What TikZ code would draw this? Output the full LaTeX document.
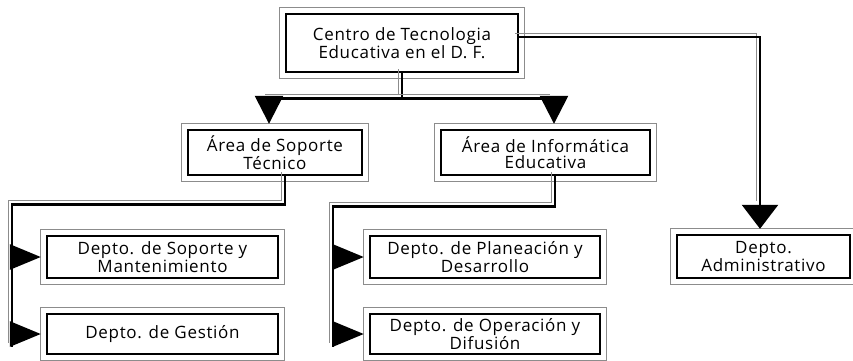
\documentclass[tikz,border=0pt]{standalone}
\usepackage{fontspec}
\setmainfont{Open Sans}[LetterSpace=4]
\usetikzlibrary{calc,arrows.meta}
\begin{document}
\begin{tikzpicture}[x=1pt,y=-1pt,
  box/.style={draw, line width=2.4pt, align=center, inner sep=0pt,
    font=\fontsize{17}{16.5}\selectfont},
  frame/.style={draw=black!45, line width=0.7pt},
  conn/.style={line width=2.6pt, preaction={draw=black!45, line width=0.7pt,
    transform canvas={shift={(-4pt,4pt)}}}},
  tconn/.style={line width=2.6pt},
  tipH/.style={-{Triangle[length=31pt,width=25pt]}},
  tipV/.style={-{Triangle[length=28pt,width=28pt]}},
  tipA/.style={-{Triangle[length=24pt,width=36pt]}}]
\useasboundingbox (0,0) rectangle (853,360);

% boxes (inner thick rectangles)
\node[box, minimum width=232pt, minimum height=58pt] (top) at (402,43)
  {Centro de Tecnologia\\Educativa en el D. F.};
\node[box, minimum width=174pt, minimum height=45pt] (ast) at (275,152.5)
  {Área de Soporte\\Técnico};
\node[box, minimum width=209pt, minimum height=45pt] (aie) at (545.5,152.5)
  {Área de Informática\\Educativa};
\node[box, minimum width=231pt, minimum height=42pt] (dsm) at (162.5,257)
  {Depto. de Soporte y\\Mantenimiento};
\node[box, minimum width=231pt, minimum height=40pt] (dg) at (162.5,334)
  {Depto. de Gestión};
\node[box, minimum width=230pt, minimum height=42pt] (dpd) at (485,257)
  {Depto. de Planeación y\\Desarrollo};
\node[box, minimum width=230pt, minimum height=40pt] (dod) at (485,334)
  {Depto. de Operación y\\Difusión};
\node[box, minimum width=173pt, minimum height=43pt] (dad) at (763.5,256.5)
  {Depto.\\Administrativo};

% outer thin frames
\foreach \n in {top,ast,aie,dsm,dg,dpd,dod,dad}
  \draw[frame] ($(\n.south west)+(-5,5)$) rectangle ($(\n.north east)+(5,-5)$);

% junction coordinates
\coordinate (j0) at ($(top.south)+(0,25)$);
\coordinate (jl) at (269,0 |- j0);
\coordinate (jr) at (554,0 |- j0);
\coordinate (s1) at ($(ast.south)+(10,28)$);
\coordinate (s2) at (12,0 |- s1);
\coordinate (s3) at (12,347);
\coordinate (i1) at ($(aie.south)+(9.5,30)$);
\coordinate (i2) at (333,0 |- i1);
\coordinate (i3) at (333,347);
\coordinate (a1) at ($(top.east)+(0,-6)$);
\coordinate (a2) at (760,0 |- a1);

% top level connectors
\draw[conn] (top.south) -- (j0);
\draw[conn] (jl) -- (jr);
\draw[tconn, tipV] (jl) -- ($(ast.north -| jl)+(0,-5)$);
\draw[tconn, tipV] (jr) -- ($(aie.north -| jr)+(0,-5)$);

% to administrative
\draw[conn] (a1) -- (a2) -- ($(dad.north -| a2)+(0,-29)$);
\draw[tconn, tipA] ($(dad.north -| a2)+(0,-29)$) -- ($(dad.north -| a2)+(0,-5)$);

% soporte branch
\draw[conn] ($(ast.south)+(10,0)$) -- (s1) -- (s2) -- (s3);
\draw[tconn, tipH] (s2 |- dsm) -- ($(dsm.west)+(-5,0)$);
\draw[tconn, tipH] (s2 |- dg) -- ($(dg.west)+(-5,0)$);

% informatica branch
\draw[conn] ($(aie.south)+(9.5,0)$) -- (i1) -- (i2) -- (i3);
\draw[tconn, tipH] (i2 |- dpd) -- ($(dpd.west)+(-5,0)$);
\draw[tconn, tipH] (i2 |- dod) -- ($(dod.west)+(-5,0)$);
\end{tikzpicture}
\end{document}
